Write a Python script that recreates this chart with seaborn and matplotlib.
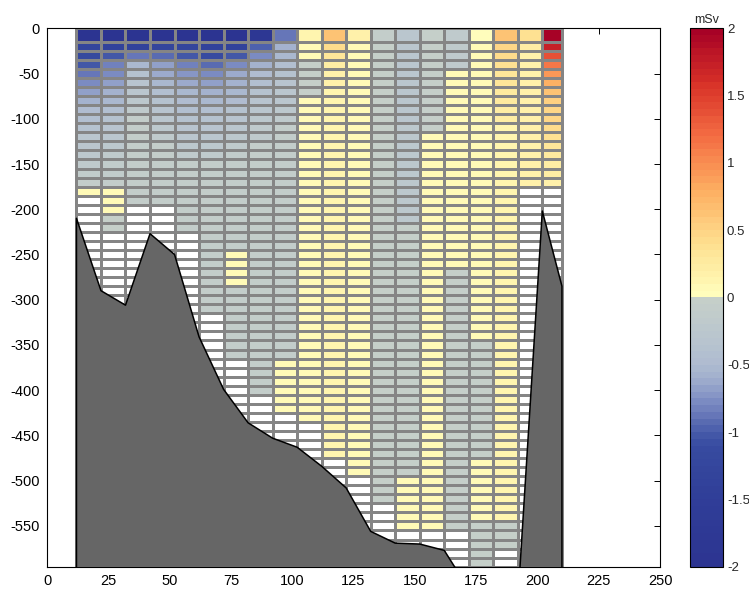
import numpy as np
import matplotlib
matplotlib.use("Agg")
import matplotlib.pyplot as plt
from matplotlib.colors import ListedColormap, LinearSegmentedColormap, Normalize
from matplotlib.ticker import FormatStrFormatter
import seaborn as sns

sns.set_style("white")
plt.rcParams['font.family'] = ['Liberation Sans', 'DejaVu Sans']
plt.rcParams['axes.unicode_minus'] = False

# ---- grid (station edges along section, depth layer edges) ----
x_edges = [12, 22, 32, 42, 52, 62, 72, 82, 92, 102, 112, 122, 132, 142, 152,
           162, 172, 182, 192, 202, 210]
depth_edges = [0] + list(range(-15, -596, -10))

# ---- transport per cell (mSv), columns as runs (value, n_rows) top->bottom ----
col00 = [(-2.0,1),(-1.3,1),(-1.2,1),(-1.05,1),(-0.9,1),(-0.8,1),(-0.68,1),(-0.6,1),(-0.5,1),(-0.42,1),(-0.36,1),(-0.3,1),(-0.26,1),(-0.22,1),(-0.16,1),(-0.12,1),(-0.08,1),(0.05,1),(None,41)]
col01 = [(-2.0,1),(-1.35,1),(-1.05,1),(-0.85,1),(-0.78,1),(-0.68,1),(-0.58,1),(-0.52,1),(-0.45,1),(-0.4,1),(-0.35,1),(-0.3,1),(-0.25,1),(-0.2,1),(-0.15,1),(-0.12,1),(-0.08,1),(0.05,3),(-0.05,2),(None,37)]
col02 = [(-2.0,1),(-1.35,1),(-0.88,1),(-0.55,1),(-0.38,1),(-0.33,1),(-0.28,1),(-0.22,1),(-0.18,1),(-0.1,10),(None,40)]
col03 = [(-2.0,1),(-1.3,1),(-0.95,1),(-0.7,1),(-0.62,1),(-0.52,1),(-0.45,1),(-0.4,1),(-0.35,1),(-0.3,1),(-0.25,1),(-0.2,1),(-0.1,7),(None,40)]
col04 = [(-2.0,1),(-1.3,1),(-1.02,1),(-0.82,1),(-0.74,1),(-0.64,1),(-0.55,1),(-0.48,1),(-0.42,1),(-0.37,1),(-0.32,1),(-0.27,1),(-0.22,1),(-0.18,1),(-0.1,8),(None,37)]
col05 = [(-2.0,1),(-1.4,1),(-1.15,1),(-0.95,1),(-0.76,1),(-0.68,1),(-0.6,1),(-0.52,1),(-0.45,1),(-0.4,1),(-0.34,1),(-0.28,1),(-0.22,1),(-0.18,1),(-0.1,17),(None,28)]
col06 = [(-2.0,1),(-1.4,1),(-1.05,1),(-0.78,1),(-0.64,1),(-0.58,1),(-0.52,1),(-0.46,1),(-0.4,1),(-0.35,1),(-0.3,1),(-0.25,1),(-0.2,1),(-0.15,1),(-0.1,10),(0.05,4),(-0.08,8),(None,23)]
col07 = [(-1.8,1),(-1.0,1),(-0.8,1),(-0.6,1),(-0.5,1),(-0.45,1),(-0.4,1),(-0.35,1),(-0.3,1),(-0.25,1),(-0.2,1),(-0.16,1),(-0.1,28),(None,19)]
col08 = [(-0.88,1),(-0.58,1),(-0.52,1),(-0.42,1),(-0.38,1),(-0.34,1),(-0.3,1),(-0.26,1),(-0.22,1),(-0.18,1),(-0.1,26),(0.05,6),(None,17)]
col09 = [(0.12,1),(0.06,2),(-0.05,4),(0.06,36),(None,16)]
col10 = [(0.6,1),(0.42,1),(0.3,1),(0.2,1),(0.17,1),(0.15,1),(0.13,1),(0.1,40),(None,12)]
col11 = [(0.15,1),(0.08,48),(None,10)]
col12 = [(-0.1,1),(-0.05,51),(None,7)]
col13 = [(-0.3,10),(-0.25,11),(-0.05,28),(0.05,6),(None,4)]
col14 = [(-0.05,11),(0.05,44),(None,4)]
col15 = [(-0.2,4),(0.05,22),(-0.05,29),(None,4)]
col16 = [(0.04,1),(0.08,33),(-0.05,13),(0.05,7),(-0.05,5)]
col17 = [(0.6,1),(0.45,1),(0.4,1),(0.35,1),(0.32,1),(0.3,1),(0.28,1),(0.25,1),(0.22,1),(0.2,1),(0.1,44),(-0.05,3),(None,2)]
col18 = [(0.35,1),(0.2,1),(0.15,15),(None,42)]
col19 = [(2.0,1),(1.7,1),(1.35,1),(1.1,1),(0.9,1),(0.75,1),(0.6,1),(0.52,1),(0.48,1),(0.45,1),(0.4,1),(0.35,1),(0.3,1),(0.25,1),(0.22,1),(0.2,1),(0.18,1),(None,42)]

columns = [col00, col01, col02, col03, col04, col05, col06, col07, col08, col09,
           col10, col11, col12, col13, col14, col15, col16, col17, col18, col19]

# ---- bathymetry (depth of sea floor at section positions) ----
bathy_x = [12, 22, 32, 42, 52, 62, 72, 82, 92, 102, 112, 122, 132, 142, 152,
           162, 172, 182, 192, 202, 210]
bathy_z = [-210, -290, -306, -227, -250, -341, -399, -436, -453, -463, -484,
           -508, -556, -569, -570, -577, -620, -645, -634, -202, -285]

cb_ticks = [-2, -1.5, -1, -0.5, 0, 0.5, 1, 1.5, 2]

# ---- build the value matrix ----
nrows = len(depth_edges) - 1
def expand(runs):
    vals = []
    for v, n in runs:
        vals += [np.nan if v is None else v] * n
    vals = (vals + [np.nan] * nrows)[:nrows]
    return vals
Z = np.array([expand(c) for c in columns]).T
Zm = np.ma.masked_invalid(Z)

# ---- colormap: blue/grey for negative, yellow->red for positive ----
neg_anchor = [(44, 52, 145), (48, 62, 152), (55, 75, 160), (72, 92, 170),
              (95, 112, 180), (118, 134, 192), (140, 155, 200), (160, 174, 205),
              (174, 187, 208), (185, 197, 207), (198, 208, 200)]
neg_pos = [0.0, 0.25, 0.45, 0.5, 0.55, 0.6, 0.65, 0.7, 0.75, 0.85, 1.0]
neg_cmap = LinearSegmentedColormap.from_list(
    "neg", list(zip(neg_pos, [tuple(c / 255 for c in a) for a in neg_anchor])))
pos_src = plt.get_cmap("RdYlBu_r")
nlev = 40
neg_cols = [neg_cmap((i + 0.5) / nlev) for i in range(nlev)]
pos_cols = [pos_src(0.5 + 0.5 * (i + 0.5) / nlev) for i in range(nlev)]
cmap = ListedColormap(neg_cols + pos_cols)
cmap.set_bad("white")
norm = Normalize(vmin=-2, vmax=2)

# ---- figure ----
fig = plt.figure(figsize=(7.49, 5.93), dpi=100)
ax = fig.add_axes([0.0628, 0.0444, 0.8184, 0.9079])
cax = fig.add_axes([0.9210, 0.0444, 0.0440, 0.9079])

mesh = ax.pcolormesh(x_edges, depth_edges, Zm, cmap=cmap, norm=norm,
                     edgecolors="#858585", linewidth=0.75)

poly_x = [bathy_x[0]] + bathy_x + [bathy_x[-1]]
poly_z = [-800] + bathy_z + [-800]
ax.fill(poly_x, poly_z, facecolor="#666666", edgecolor="none", zorder=3)
sns.lineplot(x=poly_x, y=poly_z, sort=False, estimator=None, color="black",
             linewidth=1.1, ax=ax, zorder=4)

ax.set_xlim(0, 250)
ax.set_ylim(-595, 0)
ax.set_xticks(range(0, 251, 25))
ax.set_yticks(range(-550, 1, 50))
ax.tick_params(direction="in", top=True, right=True, length=4, width=0.7,
               labelsize=10.5, colors="black", pad=5)
for s in ax.spines.values():
    s.set_visible(True)
    s.set_color("black")
    s.set_linewidth(0.8)

cb = fig.colorbar(mesh, cax=cax, ticks=cb_ticks)
cb.ax.yaxis.set_major_formatter(FormatStrFormatter("%g"))
cb.ax.tick_params(direction="in", length=4, width=0.7, labelsize=9.5, right=True,
                  left=False, pad=3)
cb.outline.set_edgecolor("black")
cb.outline.set_linewidth(0.8)
cb.ax.set_title("mSv", fontsize=9, pad=4)

fig.savefig("out.png", dpi=100)
